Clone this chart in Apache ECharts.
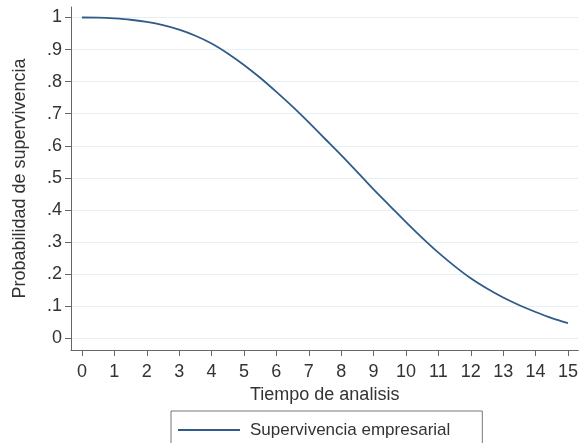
<!DOCTYPE html>
<html>
	<head>
		<meta charset="utf-8">
		<title>Probabilidad de supervivencia</title>
		<script src="https://cdn.jsdelivr.net/npm/echarts@6/dist/echarts.min.js"></script>
		<style>
			html, body { margin: 0; padding: 0; background: #fff; }
		</style>
	</head>
	<body>
		<div id="main" style="width: 581px;height:443px;"></div>
		<script>
			// datos
			var tiempo = [0, 0.5, 1, 1.5, 2, 2.5, 3, 3.5, 4, 4.5, 5, 5.5, 6, 6.5, 7, 7.5,
				8, 8.5, 9, 9.5, 10, 10.5, 11, 11.5, 12, 12.5, 13, 13.5, 14, 14.5, 15];
			var supervivencia = [1.000, 0.9995, 0.997, 0.993, 0.986, 0.976, 0.962, 0.943, 0.919, 0.888,
				0.852, 0.812, 0.768, 0.722, 0.673, 0.622, 0.571, 0.518, 0.464, 0.413,
				0.362, 0.313, 0.267, 0.225, 0.187, 0.155, 0.127, 0.103, 0.082, 0.063, 0.047];
			var xTicks = [0, 1, 2, 3, 4, 5, 6, 7, 8, 9, 10, 11, 12, 13, 14, 15];
			var yTicks = [0, 0.1, 0.2, 0.3, 0.4, 0.5, 0.6, 0.7, 0.8, 0.9, 1];
			var serieNombre = 'Supervivencia empresarial';

			var fuente = 'Liberation Sans';
			var colorLinea = '#2f5c88';
			var myChart = echarts.init(document.getElementById('main'), null, { renderer: 'canvas' });

			function getOption() {
				var puntos = tiempo.map(function(t, i) {
					return [t, supervivencia[i]];
				});
				var option = {
					animation: false,
					textStyle: { fontFamily: fuente, color: '#333' },
					grid: {
						left: 71,
						right: 0,
						top: 7,
						bottom: 93
					},
					legend: {
						data: [serieNombre],
						icon: 'rect',
						left: 171,
						top: 411,
						padding: [9, 32, 22, 7],
						borderColor: '#777',
						borderWidth: 1,
						itemWidth: 62,
						itemHeight: 2,
						itemGap: 0,
						itemStyle: { color: colorLinea },
						textStyle: {
							fontFamily: fuente,
							fontSize: 17,
							color: '#333',
							lineHeight: 20,
							padding: [0, 0, 0, 5]
						}
					},
					xAxis: {
						type: 'value',
						min: -0.338,
						max: 15.32,
						name: 'Tiempo de analisis',
						nameLocation: 'middle',
						nameGap: 30,
						nameTextStyle: { fontFamily: fuente, fontSize: 18, color: '#333' },
						axisLine: { show: true, onZero: false, lineStyle: { color: '#666', width: 1 } },
						axisTick: { show: true, length: 6, customValues: xTicks, lineStyle: { color: '#666' } },
						axisLabel: {
							customValues: xTicks,
							fontFamily: fuente,
							fontSize: 18,
							color: '#333',
							margin: 13
						},
						splitLine: { show: false }
					},
					yAxis: {
						type: 'value',
						min: -0.0365,
						max: 1.0327,
						name: 'Probabilidad de supervivencia',
						nameLocation: 'middle',
						nameGap: 42,
						nameTextStyle: { fontFamily: fuente, fontSize: 18, color: '#333' },
						axisLine: { show: true, onZero: false, lineStyle: { color: '#666', width: 1 } },
						axisTick: { show: true, length: 6, customValues: yTicks, lineStyle: { color: '#666' } },
						axisLabel: {
							customValues: yTicks,
							fontFamily: fuente,
							fontSize: 18,
							color: '#333',
							margin: 9,
							formatter: function(v) {
								// estilo Stata: .1, .2 ...
								if (v === 0 || v === 1) return String(v);
								return String(Math.round(v * 10) / 10).replace(/^0/, '');
							}
						},
						splitLine: { show: true, lineStyle: { color: '#e6eff1', width: 1 } }
					},
					series: [{
						name: serieNombre,
						type: 'line',
						data: puntos,
						symbol: 'none',
						smooth: 0.3,
						lineStyle: { color: colorLinea, width: 1.8 },
						itemStyle: { color: colorLinea }
					}]
				};
				return option;
			}

			myChart.setOption(getOption());
		</script>
	</body>
</html>
